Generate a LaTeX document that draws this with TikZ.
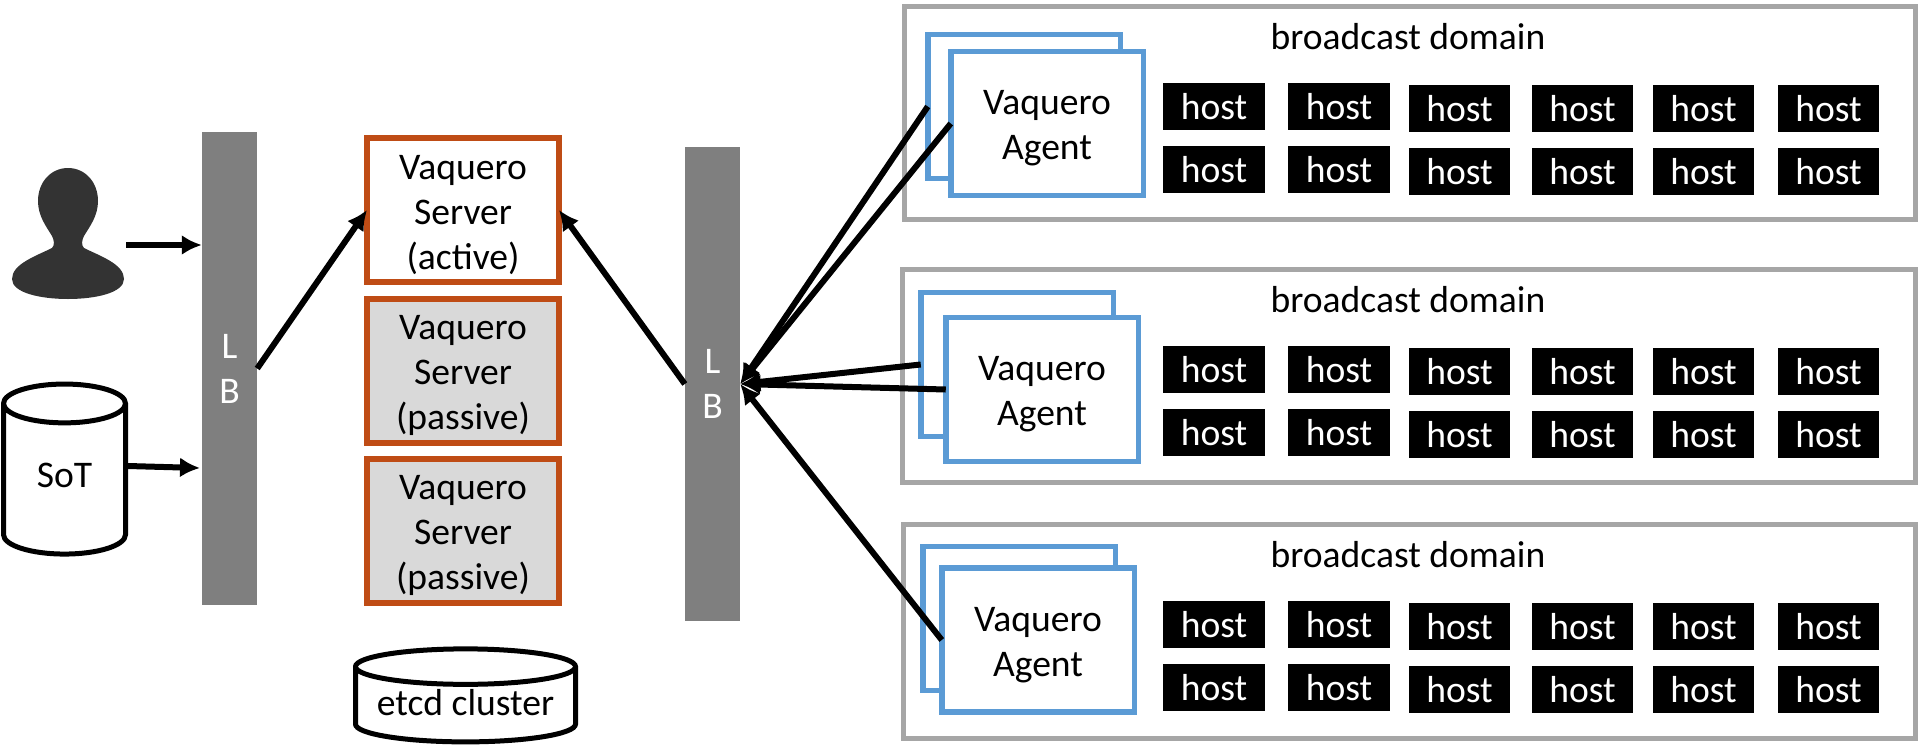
\documentclass[tikz,border=0pt]{standalone}
\usepackage{fontspec}
\setmainfont{Carlito}
\usepackage{xcolor}
\usetikzlibrary{arrows.meta}
\usetikzlibrary{shapes.geometric}
\tikzset{>={Latex[length=20pt,width=20pt]}}
\definecolor{srvcol}{HTML}{BF4C15}
\definecolor{agentcol}{HTML}{5B9BD5}
\definecolor{domcol}{HTML}{A6A6A6}
\definecolor{lbcol}{HTML}{7F7F7F}
\definecolor{passcol}{HTML}{D9D9D9}
\definecolor{usercol}{HTML}{333333}
\tikzstyle{txt}=[font=\fontsize{37.6}{45}\selectfont,align=center,inner sep=0]
\tikzstyle{lb}=[txt,fill=lbcol,text=white,minimum width=55,minimum height=473]
\tikzstyle{server}=[txt,draw=srvcol,line width=6,outer sep=0,fill=white,minimum width=192,minimum height=144]
\tikzstyle{passive}=[server,fill=passcol]
\tikzstyle{agent}=[txt,draw=agentcol,line width=5.5,outer sep=0,fill=white,minimum width=192.5,minimum height=144]
\tikzstyle{dombox}=[draw=domcol,line width=5,minimum height=213]
\tikzstyle{hostbox}=[txt,fill=black,text=white,minimum height=47]
\tikzstyle{store}=[txt,draw=black,line width=5,fill=white,cylinder,shape border rotate=90]
\tikzstyle{link}=[->,line width=6,black]
\def\topline{\rule{0pt}{34pt}}

\begin{document}
\begin{tikzpicture}[x=1pt,y=-1pt]
  
  \useasboundingbox (0,0) rectangle (1918,747);
  
  % DOMAINS
  \node[dombox,minimum width=1011] (dom1) at (1410,113) {};
  \node[dombox,minimum width=1013] (dom2) at (1409,376) {};
  \node[dombox,minimum width=1012,minimum height=214] (dom3) at (1409.5,631.5) {};
  \node[txt] (title1) at (1408,37) {broadcast domain};
  \node[txt] (title2) at (1408,300) {broadcast domain};
  \node[txt] (title3) at (1408,555) {broadcast domain};
  
  % AGENTS
  \foreach \dm/\bx/\by/\fx/\fy in {1/1024/106.5/1047/123.5,2/1017/364.5/1042/389.5,3/1019/618.5/1038/640}{
    \node[agent] (back\dm) at (\bx,\by) {};
    \node[agent] (agent\dm) at (\fx,\fy) {\topline Vaquero\\Agent};
  }
  
  % HOSTS
  \foreach \dm/\ytop in {1/106.5,2/369.5,3/624.5}{
    \foreach \cl/\xc/\boxw/\off in {1/1214/102/0,2/1339/102/0,3/1459.5/101/2,4/1582.5/101/2,5/1703.5/101/2,6/1828.5/101/2}{
      \node[hostbox,minimum width=\boxw] (host\dm\cl a) at (\xc,\ytop+\off) {host};
      \node[hostbox,minimum width=\boxw] (host\dm\cl b) at (\xc,\ytop+63+\off) {host};
    }
  }
  
  % LOAD BALANCERS
  \node[lb] (lbleft) at (229.5,368.5) {L\\B};
  \node[lb,minimum height=474] (lbright) at (712.5,384) {L\\B};
  
  % SERVERS
  \node[server] (active) at (463,210) {\topline Vaquero\\Server\\(active)};
  \node[passive] (pass1) at (463,370.5) {\topline Vaquero\\Server\\(passive)};
  \node[passive] (pass2) at (463,530.5) {\topline Vaquero\\Server\\(passive)};
  
  % STORES
  \node[store,minimum width=122,minimum height=170,shape aspect=0.7] (sot) at (64.5,480) {\rule[-9pt]{0pt}{9pt}SoT};
  \node[store,minimum width=220,minimum height=93,shape aspect=0.2] (etcd) at (465.5,705.5) {\rule[-7pt]{0pt}{7pt}etcd cluster};
  
  % USER
  \fill[usercol] (68,168)
    .. controls (85,168) and (98,182) .. (98,201)
    .. controls (98,216) and (90,226) .. (84,236)
    .. controls (82,240) and (81,245) .. (84,248)
    .. controls (100,256) and (124,264) .. (124,279)
    .. controls (124,293) and (95,299) .. (68,299)
    .. controls (41,299) and (12,293) .. (12,279)
    .. controls (12,264) and (36,256) .. (52,248)
    .. controls (55,245) and (54,240) .. (52,236)
    .. controls (46,226) and (38,216) .. (38,201)
    .. controls (38,182) and (51,168) .. (68,168) -- cycle;
  \coordinate (user) at (126,245);
  \coordinate (sotout) at (128,466);
  
  % LINKS
  \draw[link] (user) -- (lbleft.west |- user);
  \draw[link] (sotout) -- (200,468);
  \draw[link] (lbleft.east) -- (active.west);
  \draw[link] (lbright.west) -- (active.east);
  \draw[link] (back1.west) -- (lbright.east);
  \draw[link] (agent1.west) -- (lbright.east);
  \draw[link] (back2.west) -- (lbright.east);
  \draw[link] (agent2.west) -- (lbright.east);
  \draw[link] (agent3.west) -- (lbright.east);
  
\end{tikzpicture}
\end{document}
